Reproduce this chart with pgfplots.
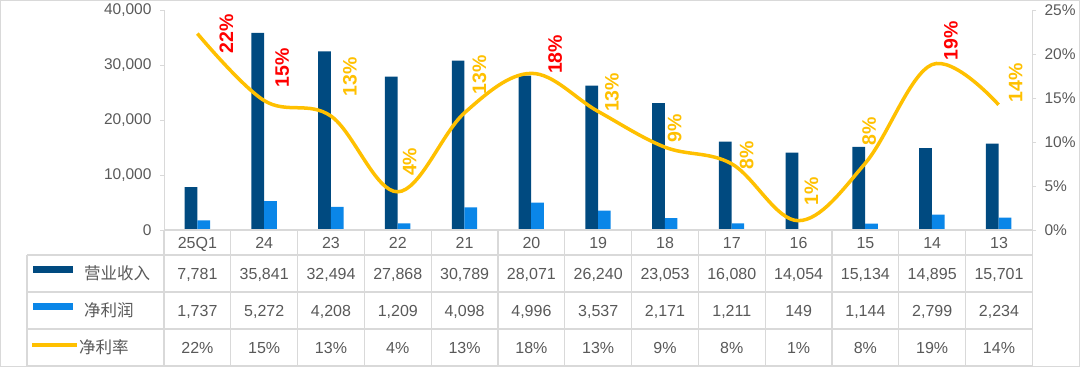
\documentclass[border=0pt]{standalone}
\usepackage{fontspec}
\setmainfont{Liberation Sans}
\newfontfamily\cjk{Noto Sans CJK SC}
\usepackage{pgfplots}
\usepackage{pgfplotstable}
\pgfplotsset{compat=1.18}
\definecolor{cRev}{RGB}{0,74,128}
\definecolor{cNp}{RGB}{10,134,232}
\definecolor{gold}{RGB}{255,192,0}
\definecolor{lblred}{RGB}{255,0,0}
\definecolor{lblgold}{RGB}{255,192,0}
\definecolor{txt}{RGB}{89,89,89}
\definecolor{gridc}{RGB}{217,217,217}

\pgfplotstableread{
x cat rev np pct dx dy red
0 25Q1 7781 1737 22.32 29 0 100
1 24 35841 5272 14.71 18 33 100
2 23 32494 4208 12.95 19 39 0
3 22 27868 1209 4.34 12 30 0
4 21 30789 4098 13.31 15 38 0
5 20 28071 4996 17.80 24 19 100
6 19 26240 3537 13.48 14 19 0
7 18 23053 2171 9.42 10 19 0
8 17 16080 1211 7.53 15 8 0
9 16 14054 149 1.06 13 29 0
10 15 15134 1144 7.56 4 32 0
11 14 14895 2799 18.79 19 24 100
12 13 15701 2234 14.23 17 22 0
}\data

\pgfkeys{/pgf/number format/.cd, fixed, 1000 sep={,}, assume math mode=true}
\newcommand\tabfont{\fontsize{16}{16}\selectfont}

\begin{document}
\begin{tikzpicture}
\path[use as bounding box] (0pt,0pt) rectangle (1080pt,-367pt);
\draw[gridc, line width=1pt] (0.5pt,-0.5pt) rectangle (1079.5pt,-366.5pt);

\pgfplotsset{
  common/.style={
    scale only axis, width=868pt, height=220pt,
    at={(164pt,-230pt)}, anchor=south west,
    xmin=-0.5, xmax=12.5,
    axis line style={gridc, line width=1pt},
    tick style={gridc, line width=1pt},
    tick align=outside, major tick length=4pt,
    tick label style={font=\fontsize{15.5}{15.5}\selectfont, text=txt},
    clip=false,
  }
}

\begin{axis}[common,
  ymin=0, ymax=40000, ytick={0,10000,20000,30000,40000},
  scaled y ticks=false,
  axis y line*=left, axis x line*=bottom, xtick=\empty,
  yticklabel style={xshift=-5pt},
]
\addplot[ybar, bar width=12.7pt, bar shift=-6.35pt, fill=cRev, draw=none] table[x=x,y=rev]{\data};
\addplot[ybar, bar width=12.7pt, bar shift=6.35pt, fill=cNp, draw=none] table[x=x,y=np]{\data};
\end{axis}

\begin{axis}[common,
  ymin=0, ymax=25, ytick={0,5,10,15,20,25},
  axis y line*=right, axis x line=none,
  yticklabel={\pgfmathprintnumber{\tick}\%},
  yticklabel style={xshift=5pt},
]
\addplot[smooth, tension=0.6, gold, line width=3.5pt] table[x=x,y=pct]{\data};
\addplot[draw=none, mark=none,
  point meta=\thisrow{pct},
  visualization depends on={\thisrow{dx}\as\dx},
  visualization depends on={\thisrow{dy}\as\dy},
  visualization depends on={\thisrow{red}\as\redp},
  nodes near coords={\pgfmathprintnumber[fixed,precision=0]{\pgfplotspointmeta}\%},
  every node near coord/.append style={anchor=center, xshift=\dx pt, yshift=\dy pt, rotate=90,
     font=\bfseries\fontsize{19.5}{20}\selectfont, text=lblred!\redp!lblgold, inner sep=0pt},
] table[x=x,y=pct]{\data};
\end{axis}

% table grid
\begin{scope}[gridc, line width=1.2pt]
\foreach \y in {255,292,329,366} \draw (27pt,-\y pt) -- (1032pt,-\y pt);
\draw (164pt,-230pt) -- (1032pt,-230pt);
\draw (27pt,-255pt) -- (27pt,-366pt);
\foreach \k in {0,...,13} {
  \pgfmathsetmacro\vx{164+66.8*\k}
  \draw (\vx pt,-230pt) -- (\vx pt,-366pt);
}
\end{scope}

% legend keys
\fill[cRev] (33pt,-266pt) rectangle (73pt,-273pt);
\fill[cNp] (33pt,-303pt) rectangle (73pt,-310pt);
\draw[gold, line width=3.5pt] (32pt,-345pt) -- (77pt,-345pt);
\node[anchor=base west, text=txt, font=\cjk\fontsize{16.5}{17}\selectfont, inner sep=0pt] at (84pt,-279.5pt) {营业收入};
\node[anchor=base west, text=txt, font=\cjk\fontsize{16.5}{17}\selectfont, inner sep=0pt] at (84pt,-316.5pt) {净利润};
\node[anchor=base west, text=txt, font=\cjk\fontsize{16.5}{17}\selectfont, inner sep=0pt] at (79pt,-353.5pt) {净利率};

% table text
\foreach \i in {0,...,12} {
  \pgfmathsetmacro\cx{197.4+66.8*\i}
  \pgfplotstablegetelem{\i}{cat}\of\data
  \node[anchor=base, text=txt, font=\tabfont] at (\cx pt,-248.3pt) {\pgfplotsretval};
  \pgfplotstablegetelem{\i}{rev}\of\data
  \node[anchor=base, text=txt, font=\tabfont] at (\cx pt,-279.3pt) {\pgfmathprintnumber{\pgfplotsretval}};
  \pgfplotstablegetelem{\i}{np}\of\data
  \node[anchor=base, text=txt, font=\tabfont] at (\cx pt,-316.3pt) {\pgfmathprintnumber{\pgfplotsretval}};
  \pgfplotstablegetelem{\i}{pct}\of\data
  \node[anchor=base, text=txt, font=\tabfont] at (\cx pt,-353.3pt) {\pgfmathprintnumber[fixed,precision=0]{\pgfplotsretval}\%};
}
\end{tikzpicture}
\end{document}
